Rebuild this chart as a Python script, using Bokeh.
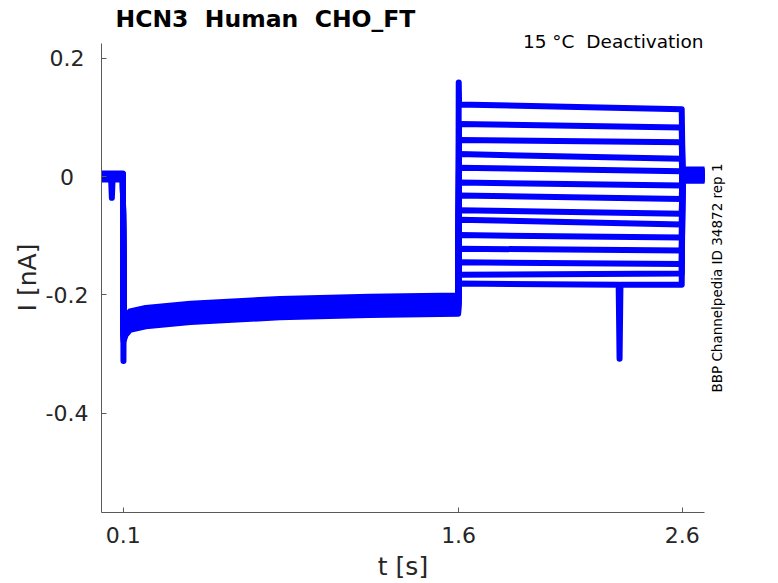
from bokeh.plotting import figure
from bokeh.models import Range1d, FixedTicker, Label, LabelSet, ColumnDataSource
from bokeh.core.properties import value
from bokeh.embed import file_html
from bokeh.resources import INLINE

# ---------------- data ----------------
# protocol times [s]: start, step to -0.2 level, deactivation step, return, end
protocol_t = [0.0, 0.1, 1.6, 2.6, 2.7]

# holding current before the first step, one value per sweep [nA]
hold_level = [0.004, -0.002, 0.003, 0.000, -0.004, 0.002, -0.001,
              0.005, -0.003, 0.001, -0.005, 0.003, -0.002, 0.000]

# activation step (0.1 s .. 1.6 s): band centre and spread of the sweeps
step1_t = [0.101, 0.11, 0.13, 0.2, 0.4, 0.8, 1.2, 1.598]
step1_center = [-0.262, -0.252, -0.243, -0.237, -0.230, -0.222, -0.218, -0.216]
step1_offset = [0.015, 0.010, 0.012, 0.005, 0.008, 0.001, 0.003,
                -0.002, 0.000, -0.006, -0.009, -0.004, -0.013, -0.016]

# deactivation steps (1.6 s .. 2.6 s): level at start and at end of each sweep
step2_start = [0.122, 0.089, 0.062, 0.038, 0.015, -0.010, -0.032,
               -0.057, -0.073, -0.099, -0.122, -0.145, -0.166, -0.181]
step2_end = [0.114, 0.083, 0.058, 0.030, 0.009, -0.015, -0.038,
             -0.063, -0.081, -0.103, -0.125, -0.148, -0.164, -0.183]

# current after returning to holding (2.6 s .. 2.7 s)
tail_level = [0.012, 0.004, 0.009, -0.003, 0.007, 0.000, 0.003,
              -0.006, 0.010, -0.001, 0.002, -0.007, 0.005, -0.004]

# single transients: sweep index, time, peak current, level around it (None = at a step edge)
spike_trace = [2, 5, 0, 13]
spike_t = [0.1005, 0.0486, 1.6005, 2.32]
spike_i = [-0.312, -0.036, 0.159, -0.308]
spike_base = [None, 0.002, None, -0.183]

x_lim = [0.0, 2.7]
y_lim = [-0.568, 0.225]
x_ticks = [0.1, 1.6, 2.6]
x_tick_labels = ["0.1", "1.6", "2.6"]
y_ticks = [-0.4, -0.2, 0.0, 0.2]
y_tick_labels = ["-0.4", "-0.2", "0", "0.2"]

# double spaces kept visible with a no-break space
title_text = "HCN3\u00a0 Human\u00a0 CHO_FT"
condition_text = "15 °C\u00a0 Deactivation"
id_text = "BBP Channelpedia ID 34872 rep 1"
x_label = "t [s]"
y_label = "I [nA]"

# ---------------- build sweeps ----------------
EPS = 0.002
HW = 0.004
xs, ys = [], []
for k in range(len(hold_level)):
    pts = [(protocol_t[0], hold_level[k]), (protocol_t[1] - EPS, hold_level[k])]
    for t, c in zip(step1_t, step1_center):
        pts.append((t, c + step1_offset[k]))
    pts.append((protocol_t[2] + EPS, step2_start[k]))
    pts.append((protocol_t[3] - EPS, step2_end[k]))
    pts.append((protocol_t[3] + EPS, tail_level[k]))
    pts.append((protocol_t[4], tail_level[k]))
    for s, ts, si, sb in zip(spike_trace, spike_t, spike_i, spike_base):
        if s == k:
            pts.append((ts, si))
            if sb is not None:
                pts.append((ts - HW, sb))
                pts.append((ts + HW, sb))
    pts.sort(key=lambda p: p[0])
    xs.append([p[0] for p in pts])
    ys.append([p[1] for p in pts])

# ---------------- layout (canvas pixels of the axes box) ----------------
W, H = 778, 583
AX_L, AX_R, AX_T, AX_B = 100.5, 704.0, 43.0, 512.0
PPX = (AX_R - AX_L) / (x_lim[1] - x_lim[0])
PPY = (AX_B - AX_T) / (y_lim[1] - y_lim[0])
XS = x_lim[0] - AX_L / PPX
XE = XS + W / PPX
YE = y_lim[1] + AX_T / PPY
YS = YE - H / PPY


def cx(px):
    return XS + px / PPX


def cy(py):
    return YE - py / PPY


p = figure(width=W, height=H, output_backend="svg", toolbar_location=None,
           x_range=Range1d(XS, XE), y_range=Range1d(YS, YE),
           min_border=0, min_border_left=0, min_border_right=0,
           min_border_top=0, min_border_bottom=0)
p.outline_line_color = None
p.xgrid.grid_line_color = None
p.ygrid.grid_line_color = None
p.background_fill_color = "white"
p.border_fill_color = "white"

p.multi_line(xs, ys, line_color="#0000ff", line_width=6, line_join="round")

AX = "#5a5a5a"
TXT = "#262626"
FONT = "DejaVu Sans"

for ax in (p.xaxis[0], p.yaxis[0]):
    ax.axis_line_color = AX
    ax.major_tick_line_color = AX
    ax.major_tick_in = 5
    ax.major_tick_out = 0
    ax.minor_tick_line_color = None
    ax.major_label_text_font = FONT
    ax.major_label_text_font_size = "22px"
    ax.major_label_text_color = TXT

p.xaxis.fixed_location = y_lim[0]
p.xaxis.bounds = (x_lim[0], x_lim[1])
p.xaxis.ticker = FixedTicker(ticks=x_ticks)
p.xaxis.major_label_overrides = dict(zip(x_ticks, x_tick_labels))
p.xaxis.major_label_standoff = 14

p.yaxis.fixed_location = x_lim[0]
p.yaxis.bounds = (y_lim[0], y_lim[1])
p.yaxis.ticker = FixedTicker(ticks=y_ticks)
p.yaxis.major_label_overrides = {t: "" for t in y_ticks}

# y tick labels, centred as in the reference
src = ColumnDataSource(dict(x=[cx(66.5)] * len(y_ticks), y=y_ticks, text=y_tick_labels))
p.add_layout(LabelSet(x="x", y="y", text="text", source=src,
                      text_align="center", text_baseline="middle",
                      text_font=value(FONT), text_font_size=value("22px"),
                      text_color=TXT))

# axis titles
p.add_layout(Label(x=cx(402.5), y=cy(566), text=x_label,
                   text_align="center", text_baseline="middle",
                   text_font=FONT, text_font_size="25px", text_color=TXT))
p.add_layout(Label(x=cx(27), y=cy(277), text=y_label, angle=1.5708,
                   text_align="center", text_baseline="middle",
                   text_font=FONT, text_font_size="25px", text_color=TXT))

# title and annotations
p.add_layout(Label(x=cx(115), y=cy(18), text=title_text,
                   text_align="left", text_baseline="middle",
                   text_font=FONT, text_font_size="23.5px", text_font_style="bold",
                   text_color="black"))
p.add_layout(Label(x=cx(703), y=cy(41), text=condition_text,
                   text_align="right", text_baseline="middle",
                   text_font=FONT, text_font_size="18.5px", text_color="black"))
p.add_layout(Label(x=cx(716.5), y=cy(277.5), text=id_text, angle=1.5708,
                   text_align="center", text_baseline="middle",
                   text_font=FONT, text_font_size="13.5px", text_color="black"))

open("out.html", "w").write(file_html(p, INLINE))
